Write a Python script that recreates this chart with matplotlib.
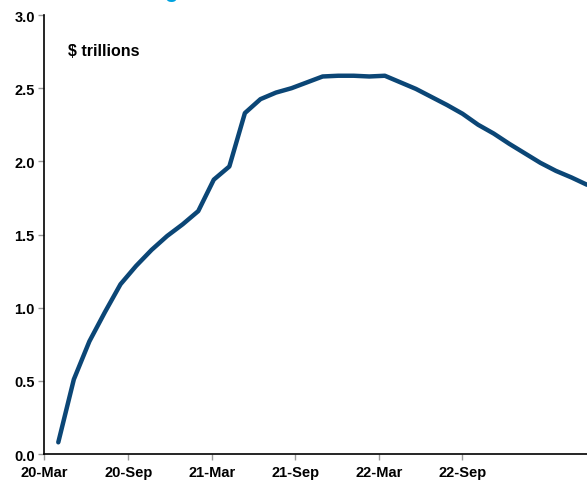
import matplotlib
matplotlib.use("Agg")
import matplotlib.pyplot as plt
import numpy as np

# values in $ trillions, one point per period
values = [0.08, 0.51, 0.77, 0.97, 1.16, 1.285, 1.395, 1.49, 1.57, 1.66,
          1.875, 1.965, 2.33, 2.425, 2.47, 2.50, 2.54, 2.58, 2.585, 2.585,
          2.58, 2.585, 2.54, 2.495, 2.44, 2.385, 2.325, 2.25, 2.19, 2.12,
          2.055, 1.99, 1.935, 1.89, 1.84]
tick_labels = ['20-Mar', '20-Sep', '21-Mar', '21-Sep', '22-Mar', '22-Sep']
tick_pos = [-0.887, 4.51, 9.88, 15.25, 20.62, 25.99]
y_ticks = [0.0, 0.5, 1.0, 1.5, 2.0, 2.5, 3.0]

plt.rcParams['font.family'] = ['Liberation Sans', 'DejaVu Sans']

fig = plt.figure(figsize=(5.87, 4.81), dpi=100)
ax = fig.add_axes([0.0758, 0.054, 0.9242, 0.9127])

x = np.arange(len(values))
ax.plot(x, values, color='#0b4676', linewidth=3.2, solid_capstyle='round',
        solid_joinstyle='round', clip_on=False)

ax.set_xlim(tick_pos[0], len(values) - 1)
ax.set_ylim(0, 3.0)
ax.set_xticks(tick_pos)
ax.set_xticklabels(tick_labels)
ax.set_yticks(y_ticks)
ax.set_yticklabels([f'{v:.1f}' for v in y_ticks])

for s in ['top', 'right']:
    ax.spines[s].set_visible(False)
for s in ['left', 'bottom']:
    ax.spines[s].set_color('black')
    ax.spines[s].set_linewidth(1.2)

ax.tick_params(axis='both', direction='out', length=4, width=1, color='#999999',
               labelsize=10.5, pad=3)
ax.tick_params(axis='x', pad=4)
for lab in ax.get_xticklabels() + ax.get_yticklabels():
    lab.set_fontweight('bold')

ax.text(0.043, 0.92, '$ trillions', transform=ax.transAxes, fontsize=11.5,
        fontweight='bold', va='center', ha='left')

# title mostly cut off above the figure
fig.text(0.28, 1.006, 'g', color='#00a3e0', fontsize=16, fontweight='bold',
         ha='left', va='baseline')

fig.savefig('out.png', dpi=100)
